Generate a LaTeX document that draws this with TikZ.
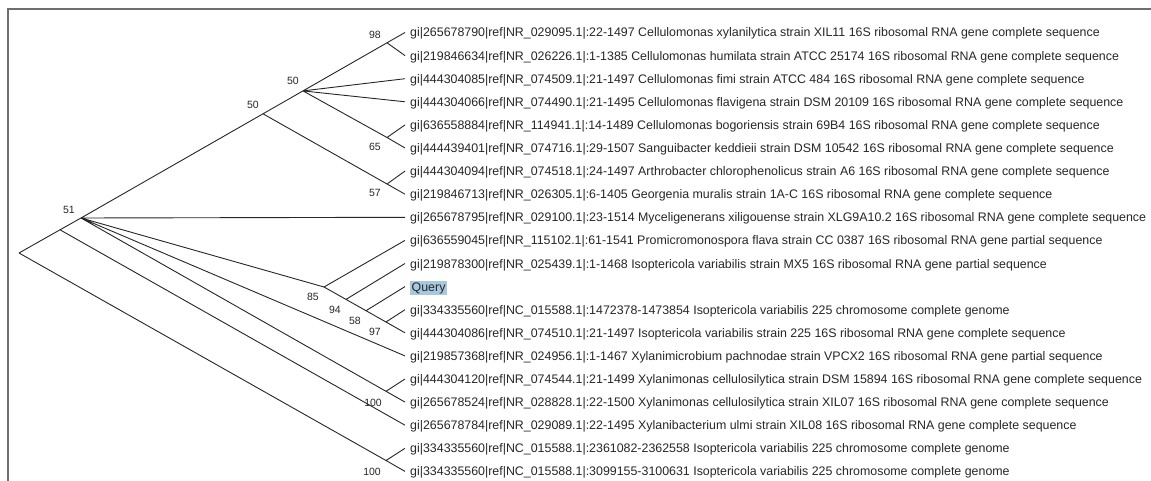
\documentclass[tikz,border=0pt]{standalone}
\usepackage{fontspec}
\setmainfont{Liberation Sans}
\usetikzlibrary{positioning}
\definecolor{frame}{HTML}{6E6E6E}
\definecolor{query}{HTML}{A8C8E0}
\definecolor{ink}{HTML}{262626}
\tikzset{
  leaf/.style={anchor=west,inner sep=0pt,inner xsep=5pt,font=\fontsize{12.4}{14}\selectfont,text height=9pt,text depth=0pt,text=ink},
  bs/.style={inner sep=0pt,font=\fontsize{10.5}{12}\selectfont,text height=7.5pt,text depth=0pt,text=ink},
  branch/.style={draw=ink,line width=0.9pt}
}
\begin{document}
\begin{tikzpicture}[x=1pt,y=-1pt]
\useasboundingbox (0,0) rectangle (1151,481);
\draw[frame,line width=2pt] (8,481) -- (8,9.5) -- (1151,9.5);

\node[leaf] (l1) at (405,32.5) {gi|265678790|ref|NR\_029095.1|:22-1497 Cellulomonas xylanilytica strain XIL11 16S ribosomal RNA gene complete sequence};
\node[leaf] (l2) at (405,55.6) {gi|219846634|ref|NR\_026226.1|:1-1385 Cellulomonas humilata strain ATCC 25174 16S ribosomal RNA gene complete sequence};
\node[leaf] (l3) at (405,78.7) {gi|444304085|ref|NR\_074509.1|:21-1497 Cellulomonas fimi strain ATCC 484 16S ribosomal RNA gene complete sequence};
\node[leaf] (l4) at (405,101.8) {gi|444304066|ref|NR\_074490.1|:21-1495 Cellulomonas flavigena strain DSM 20109 16S ribosomal RNA gene complete sequence};
\node[leaf] (l5) at (405,124.9) {gi|636558884|ref|NR\_114941.1|:14-1489 Cellulomonas bogoriensis strain 69B4 16S ribosomal RNA gene complete sequence};
\node[leaf] (l6) at (405,148.0) {gi|444439401|ref|NR\_074716.1|:29-1507 Sanguibacter keddieii strain DSM 10542 16S ribosomal RNA gene complete sequence};
\node[leaf] (l7) at (405,171.1) {gi|444304094|ref|NR\_074518.1|:24-1497 Arthrobacter chlorophenolicus strain A6 16S ribosomal RNA gene complete sequence};
\node[leaf] (l8) at (405,194.2) {gi|219846713|ref|NR\_026305.1|:6-1405 Georgenia muralis strain 1A-C 16S ribosomal RNA gene complete sequence};
\node[leaf] (l9) at (405,217.3) {gi|265678795|ref|NR\_029100.1|:23-1514 Myceligenerans xiligouense strain XLG9A10.2 16S ribosomal RNA gene complete sequence};
\node[leaf] (l10) at (405,240.4) {gi|636559045|ref|NR\_115102.1|:61-1541 Promicromonospora flava strain CC 0387 16S ribosomal RNA gene partial sequence};
\node[leaf] (l11) at (405,263.5) {gi|219878300|ref|NR\_025439.1|:1-1468 Isoptericola variabilis strain MX5 16S ribosomal RNA gene partial sequence};
\node[leaf] (l12) at (405,286.6) {\setlength\fboxsep{1.5pt}\colorbox{query}{Query}};
\node[leaf] (l13) at (405,309.7) {gi|334335560|ref|NC\_015588.1|:1472378-1473854 Isoptericola variabilis 225 chromosome complete genome};
\node[leaf] (l14) at (405,332.8) {gi|444304086|ref|NR\_074510.1|:21-1497 Isoptericola variabilis strain 225 16S ribosomal RNA gene complete sequence};
\node[leaf] (l15) at (405,355.9) {gi|219857368|ref|NR\_024956.1|:1-1467 Xylanimicrobium pachnodae strain VPCX2 16S ribosomal RNA gene partial sequence};
\node[leaf] (l16) at (405,379.0) {gi|444304120|ref|NR\_074544.1|:21-1499 Xylanimonas cellulosilytica strain DSM 15894 16S ribosomal RNA gene complete sequence};
\node[leaf] (l17) at (405,402.1) {gi|265678524|ref|NR\_028828.1|:22-1500 Xylanimonas cellulosilytica strain XIL07 16S ribosomal RNA gene complete sequence};
\node[leaf] (l18) at (405,425.2) {gi|265678784|ref|NR\_029089.1|:22-1495 Xylanibacterium ulmi strain XIL08 16S ribosomal RNA gene complete sequence};
\node[leaf] (l19) at (405,448.3) {gi|334335560|ref|NC\_015588.1|:2361082-2362558 Isoptericola variabilis 225 chromosome complete genome};
\node[leaf] (l20) at (405,471.4) {gi|334335560|ref|NC\_015588.1|:3099155-3100631 Isoptericola variabilis 225 chromosome complete genome};

\coordinate (root) at (19,253);
\coordinate (nJ) at (60,229.8);
\coordinate (n51) at (81,218);
\coordinate (n50a) at (263,113.8);
\coordinate (n50b) at (303,90.9);
\coordinate (n98) at (387,42.8);
\coordinate (n65) at (387,137.5);
\coordinate (n57) at (387,184);
\coordinate (n85) at (324,287);
\coordinate (n94) at (346,299.4);
\coordinate (n58) at (366,310.7);
\coordinate (n97) at (386,322);
\coordinate (n100a) at (386,391.3);
\coordinate (n100b) at (386,460.5);

\draw[branch] (root) -- (nJ) (root) -- (n100b);
\draw[branch] (nJ) -- (n51) (nJ) -- (l18.west);
\draw[branch] (n51) -- (n50a) (n51) -- (l9.west) (n51) -- (n85) (n51) -- (l15.west) (n51) -- (n100a);
\draw[branch] (n50a) -- (n50b) (n50a) -- (n57);
\draw[branch] (n50b) -- (n98) (n50b) -- (l3.west) (n50b) -- (l4.west) (n50b) -- (n65);
\draw[branch] (n98) -- (l1.west) (n98) -- (l2.west);
\draw[branch] (n65) -- (l5.west) (n65) -- (l6.west);
\draw[branch] (n57) -- (l7.west) (n57) -- (l8.west);
\draw[branch] (n85) -- (l10.west) (n85) -- (n94);
\draw[branch] (n94) -- (l11.west) (n94) -- (n58);
\draw[branch] (n58) -- (l12.west) (n58) -- (n97);
\draw[branch] (n97) -- (l13.west) (n97) -- (l14.west);
\draw[branch] (n100a) -- (l16.west) (n100a) -- (l17.west);
\draw[branch] (n100b) -- (l19.west) (n100b) -- (l20.west);

\node[bs,above left=4pt and 6pt of n98] {98};
\node[bs,above left=6pt and 4pt of n50b] {50};
\node[bs,above left=5pt and 4pt of n50a] {50};
\node[bs,above left=4pt and 6pt of n51] {51};
\node[bs,below left=5pt and 6pt of n65] {65};
\node[bs,below left=5pt and 6pt of n57] {57};
\node[bs,below left=6pt and 5pt of n85] {85};
\node[bs,below left=6pt and 5pt of n94] {94};
\node[bs,below left=6pt and 5pt of n58] {58};
\node[bs,below left=6pt and 5pt of n97] {97};
\node[bs,below left=7pt and 4pt of n100a] {100};
\node[bs,below left=7.5pt and 5pt of n100b] {100};
\end{tikzpicture}
\end{document}
